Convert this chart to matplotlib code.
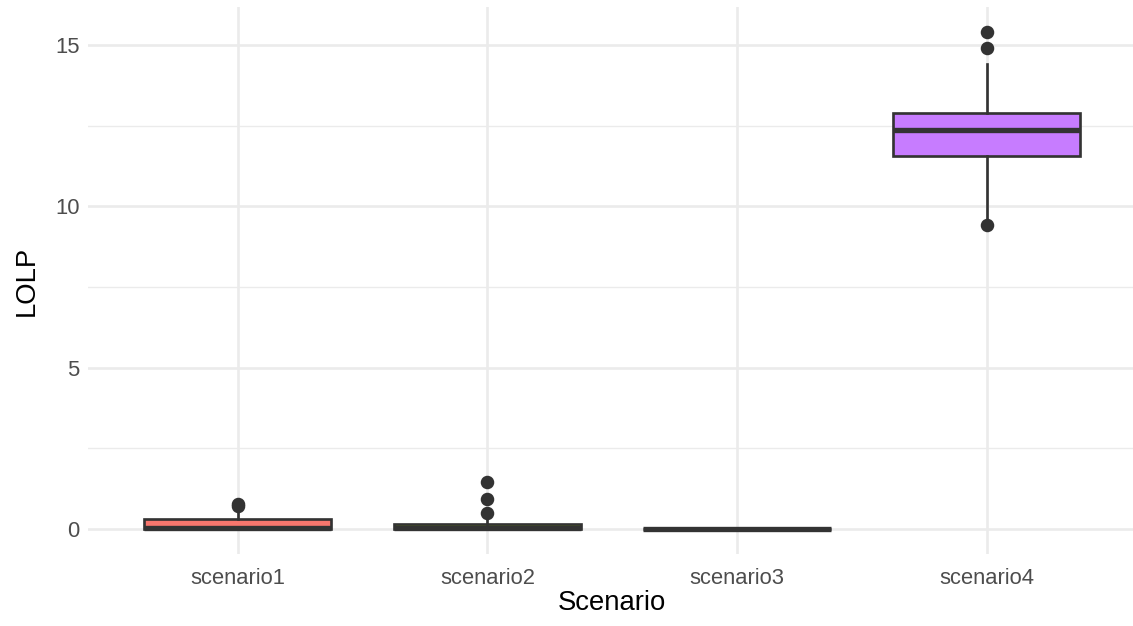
"""
Boxplot of LOLP per scenario, ggplot2 theme_minimal look.
"""
import matplotlib
matplotlib.use("Agg")
import matplotlib.pyplot as plt
from matplotlib.ticker import MultipleLocator

scenarios = ["scenario1", "scenario2", "scenario3", "scenario4"]
fills = ["#F8766D", "#7CAE00", "#00BFC4", "#C77CFF"]

# box statistics
q1 = [0.0, 0.0, 0.0, 11.57]
med = [0.05, 0.03, 0.0, 12.36]
q3 = [0.30, 0.15, 0.0, 12.89]
whislo = [0.0, 0.0, 0.0, 9.62]
whishi = [0.58, 0.30, 0.0, 14.40]
fliers = [[0.72, 0.79], [0.49, 0.93, 1.45], [], [9.41, 14.90, 15.40]]

dpi = 180
W, H = 1133, 626
line = "#333333"
lw = 1.07

plt.rcParams["font.family"] = ["Liberation Sans", "DejaVu Sans"]

fig = plt.figure(figsize=(W / dpi, H / dpi), dpi=dpi)
# panel in pixels: left 88, right ~1136 (runs off the edge), top 7, bottom 554
ax = fig.add_axes([88 / W, (H - 554) / H, (1136.5 - 88) / W, (554 - 7) / H])

stats = []
for i, name in enumerate(scenarios):
    stats.append({"label": name, "q1": q1[i], "med": med[i], "q3": q3[i],
                  "whislo": whislo[i], "whishi": whishi[i], "fliers": fliers[i]})

bp = ax.bxp(stats, positions=range(1, 5), widths=0.75, patch_artist=True,
            showcaps=False, zorder=3,
            boxprops=dict(edgecolor=line, linewidth=lw),
            medianprops=dict(color=line, linewidth=lw * 2, solid_capstyle="butt"),
            whiskerprops=dict(color=line, linewidth=lw),
            flierprops=dict(marker="o", markerfacecolor=line, markeredgecolor=line,
                            markersize=4.4, linestyle="none"))
for patch, c in zip(bp["boxes"], fills):
    patch.set_facecolor(c)

all_vals = q1 + q3 + whislo + whishi + [v for f in fliers for v in f]
lo, hi = min(all_vals), max(all_vals)
pad = (hi - lo) * 0.05
ax.set_ylim(lo - pad, hi + pad)
ax.set_xlim(0.4, 4.6)

ax.yaxis.set_major_locator(MultipleLocator(5))
ax.yaxis.set_minor_locator(MultipleLocator(2.5))
ax.grid(True, which="major", color="#EBEBEB", linewidth=lw, zorder=0)
ax.grid(True, which="minor", axis="y", color="#EBEBEB", linewidth=lw / 2, zorder=0)
ax.set_axisbelow(True)
for s in ax.spines.values():
    s.set_visible(False)

ax.tick_params(axis="both", which="both", length=0,
               labelsize=8.8, labelcolor="#4D4D4D")
ax.tick_params(axis="x", pad=5.4)
ax.tick_params(axis="y", pad=3.3)
ax.set_xticks(range(1, 5))
ax.set_xticklabels(scenarios)
ax.set_xlabel("Scenario", fontsize=11, color="black", labelpad=0.8)
ax.set_ylabel("LOLP", fontsize=11, color="black", labelpad=6)

fig.savefig("out.png", dpi=dpi, facecolor="white")
